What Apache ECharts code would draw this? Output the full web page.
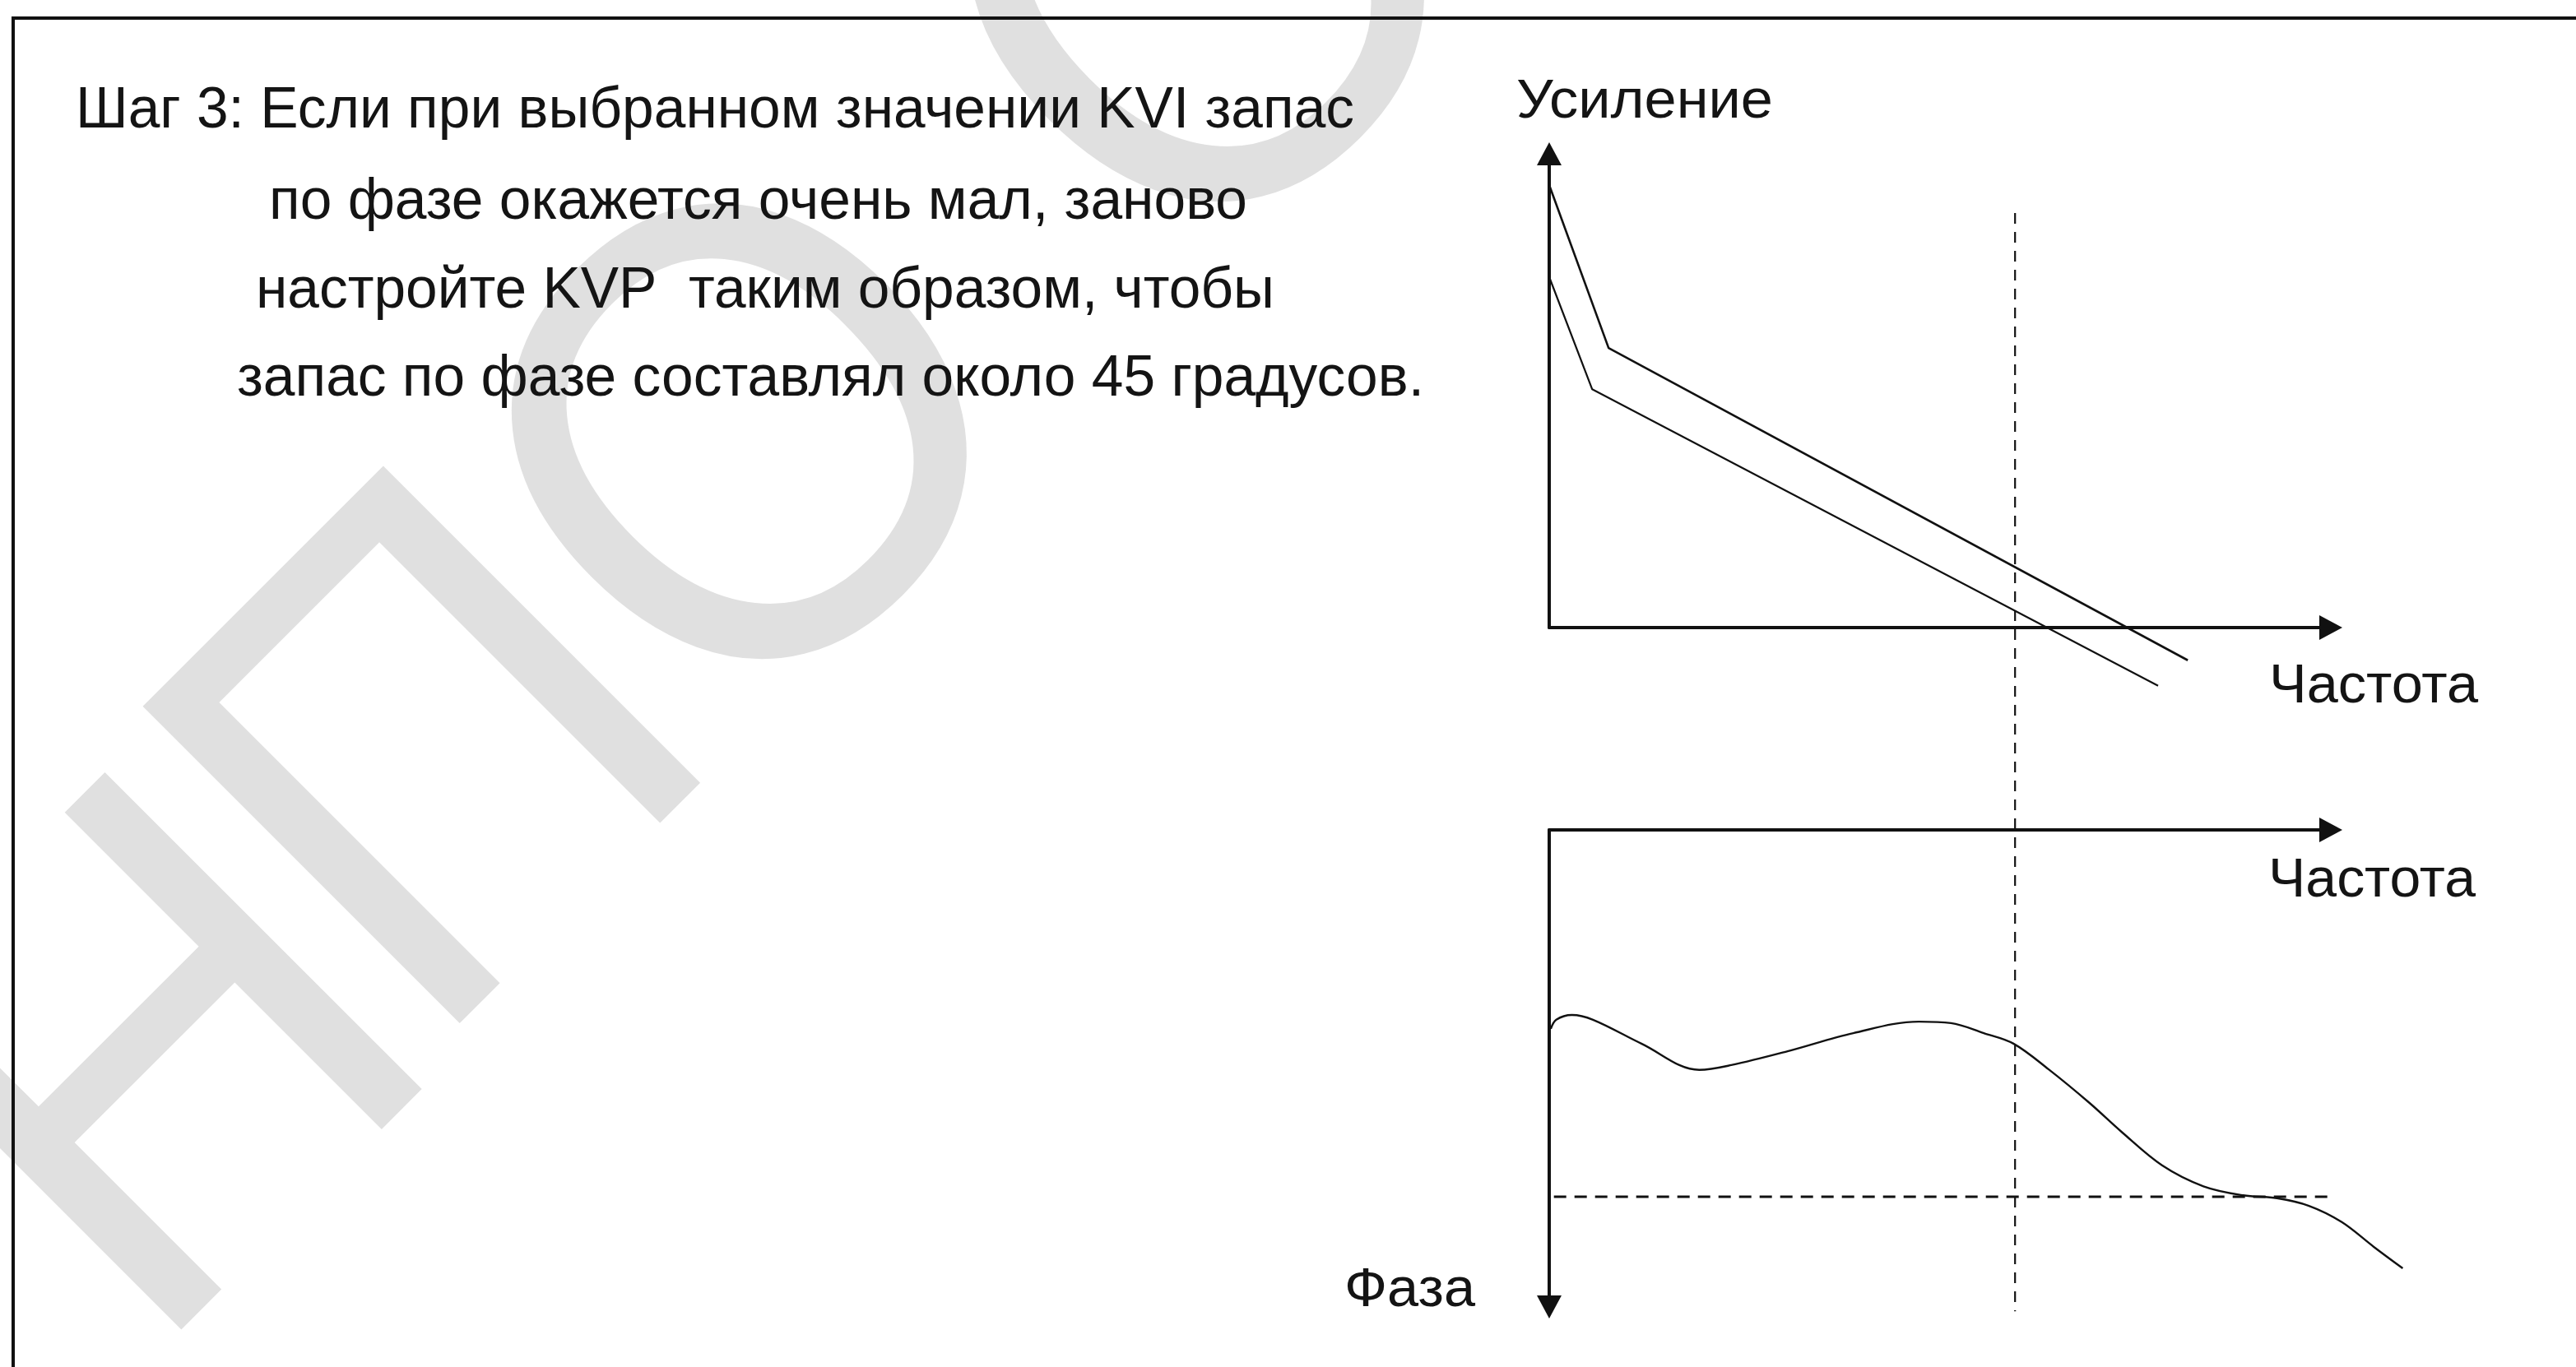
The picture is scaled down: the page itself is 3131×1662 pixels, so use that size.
<!DOCTYPE html>
<html>
<head>
<meta charset="utf-8">
<script src="https://cdn.jsdelivr.net/npm/echarts@6/dist/echarts.min.js"></script>
<style>
html,body{margin:0;padding:0;background:#ffffff;}
#chart{width:3131px;height:1662px;}
</style>
</head>
<body>
<div id="chart"></div>
<script>
// ---------- texts ----------
const instructionLines = [
  'Шаг 3: Если при выбранном значении KVI запас',
  'по фазе окажется очень мал, заново',
  'настройте KVP  таким образом, чтобы',
  'запас по фазе составлял около 45 градусов.'
];
const gainAxisName = 'Усиление';
const freqAxisName = 'Частота';
const phaseAxisName = 'Фаза';
const watermarkLetters = ['Н', 'П', 'О', 'О'];

// ---------- data (frequency 0..100, gain 0..100, phase 0..-100) ----------
const gainAfterKvp = [[0, 93.4], [7.6, 59.0], [81.7, -6.9]];
const gainBeforeKvp = [[0, 74.0], [5.5, 50.3], [77.9, -12.3]];
const crossoverFreq = 59.6;
const crossoverSpan = [87.5, -144.3];
const phaseCurve = [
  [0.2, -41.7], [0.9, -39.8], [2.9, -38.8], [5.6, -39.8], [11.8, -44.8],
  [19.2, -50.3], [23.3, -49.3], [30.5, -46.4], [38.9, -42.6], [47.3, -40.2],
  [51.4, -40.5], [55.6, -42.6], [59.4, -44.8], [63.9, -50.2], [69.1, -57.2],
  [73.3, -63.4], [78.4, -70.3], [83.7, -74.7], [88.8, -76.6], [93.1, -77.2],
  [97.2, -78.8], [101.4, -82.2], [105.5, -87.4], [109.2, -91.9]
];
const phaseMarginLevel = -76.9;
const phaseMarginSpan = [0.6, 99.8];

// ---------- layout ----------
const FONT_FAMILY = '"Liberation Sans", Arial, Helvetica, sans-serif';
const instructionLayout = [
  { x: 92, base: 159, w: 1554, size: 70 },
  { x: 327, base: 270, w: 1189, size: 70 },
  { x: 311, base: 378, w: 1238, size: 70 },
  { x: 288, base: 485, w: 1443, size: 70 }
];
const labelLayout = [
  { text: gainAxisName, x: 1843, base: 147, w: 312, size: 66 },
  { text: freqAxisName, x: 2758, base: 858, w: 254, size: 66 },
  { text: freqAxisName, x: 2757, base: 1094, w: 252, size: 66 },
  { text: phaseAxisName, x: 1634, base: 1592, w: 159, size: 66 }
];
const watermarkLayout = [
  { x: 212, y: 1316 }, { x: 550, y: 944 }, { x: 938, y: 563 }, { x: 1494, y: 7 }
];

const measureCtx = document.createElement('canvas').getContext('2d');
function naturalWidth(text, size) {
  measureCtx.font = size + 'px ' + FONT_FAMILY;
  return measureCtx.measureText(text).width;
}
const MID = 0.33; // canvas "middle" baseline offset (em)

function textEl(text, l, z) {
  const nat = naturalWidth(text, l.size);
  return {
    type: 'text',
    x: l.x,
    y: l.base - MID * l.size,
    scaleX: l.w / nat,
    z: z,
    silent: true,
    style: {
      text: text,
      fontSize: l.size,
      fontFamily: FONT_FAMILY,
      fill: '#141414',
      align: 'left',
      verticalAlign: 'middle'
    }
  };
}

const graphics = [];
watermarkLetters.forEach(function (ch, i) {
  graphics.push({
    type: 'text',
    x: watermarkLayout[i].x,
    y: watermarkLayout[i].y,
    rotation: Math.PI / 4,
    scaleY: 1.07,
    z: -20,
    silent: true,
    style: {
      text: ch,
      fontSize: 740,
      fontFamily: FONT_FAMILY,
      fill: '#e0e0e0',
      align: 'center',
      verticalAlign: 'middle'
    }
  });
});
graphics.push({
  type: 'rect',
  z: 5,
  silent: true,
  shape: { x: 16, y: 22, width: 3300, height: 1800 },
  style: { fill: 'none', stroke: '#111111', lineWidth: 4 }
});
instructionLines.forEach(function (t, i) {
  graphics.push(textEl(t, instructionLayout[i], 10));
});
labelLayout.forEach(function (l) {
  graphics.push(textEl(l.text, l, 10));
});

function axisLineStyle(symbols) {
  return {
    show: true,
    onZero: true,
    lineStyle: { color: '#111111', width: 4 },
    symbol: symbols,
    symbolSize: [30, 28]
  };
}
const hidden = {
  axisTick: { show: false },
  axisLabel: { show: false },
  splitLine: { show: false }
};

const chart = echarts.init(document.getElementById('chart'), null, { renderer: 'canvas' });
chart.setOption({
  backgroundColor: '#ffffff',
  animation: false,
  grid: [
    { left: 1883, top: 187, width: 950, height: 576 },
    { left: 1883, top: 1009, width: 950, height: 580 },
    // same scale as grid 1, wider so the phase curve can run past the arrow
    { left: 1883, top: 1009, width: 1092.5, height: 580 }
  ],
  xAxis: [
    Object.assign({ type: 'value', gridIndex: 0, min: 0, max: 100, axisLine: axisLineStyle(['none', 'triangle']) }, hidden),
    Object.assign({ type: 'value', gridIndex: 1, min: 0, max: 100, axisLine: axisLineStyle(['none', 'triangle']) }, hidden),
    { type: 'value', gridIndex: 2, min: 0, max: 115, show: false }
  ],
  yAxis: [
    Object.assign({ type: 'value', gridIndex: 0, min: 0, max: 100, axisLine: axisLineStyle(['none', 'triangle']) }, hidden),
    Object.assign({ type: 'value', gridIndex: 1, min: -100, max: 0, axisLine: axisLineStyle(['triangle', 'none']) }, hidden),
    { type: 'value', gridIndex: 2, min: -100, max: 0, show: false }
  ],
  graphic: graphics,
  series: [
    {
      name: 'gain after KVP', type: 'line', xAxisIndex: 0, yAxisIndex: 0,
      data: gainAfterKvp, symbol: 'none', clip: false, silent: true,
      lineStyle: { color: '#111111', width: 2.6 }
    },
    {
      name: 'gain before KVP', type: 'line', xAxisIndex: 0, yAxisIndex: 0,
      data: gainBeforeKvp, symbol: 'none', clip: false, silent: true,
      lineStyle: { color: '#111111', width: 2.2 }
    },
    {
      name: 'crossover', type: 'line', xAxisIndex: 0, yAxisIndex: 0,
      data: crossoverSpan.map(function (v) { return [crossoverFreq, v]; }),
      symbol: 'none', clip: false, silent: true,
      lineStyle: { color: '#111111', width: 2.2, type: [13, 10] }
    },
    {
      name: 'phase', type: 'line', xAxisIndex: 2, yAxisIndex: 2,
      data: phaseCurve, symbol: 'none', clip: false, silent: true, smooth: 0.35,
      lineStyle: { color: '#111111', width: 2.4 }
    },
    {
      name: 'phase margin', type: 'line', xAxisIndex: 1, yAxisIndex: 1,
      data: phaseMarginSpan.map(function (v) { return [v, phaseMarginLevel]; }),
      symbol: 'none', clip: false, silent: true,
      lineStyle: { color: '#111111', width: 3, type: [15, 10] }
    }
  ]
});
</script>
</body>
</html>
